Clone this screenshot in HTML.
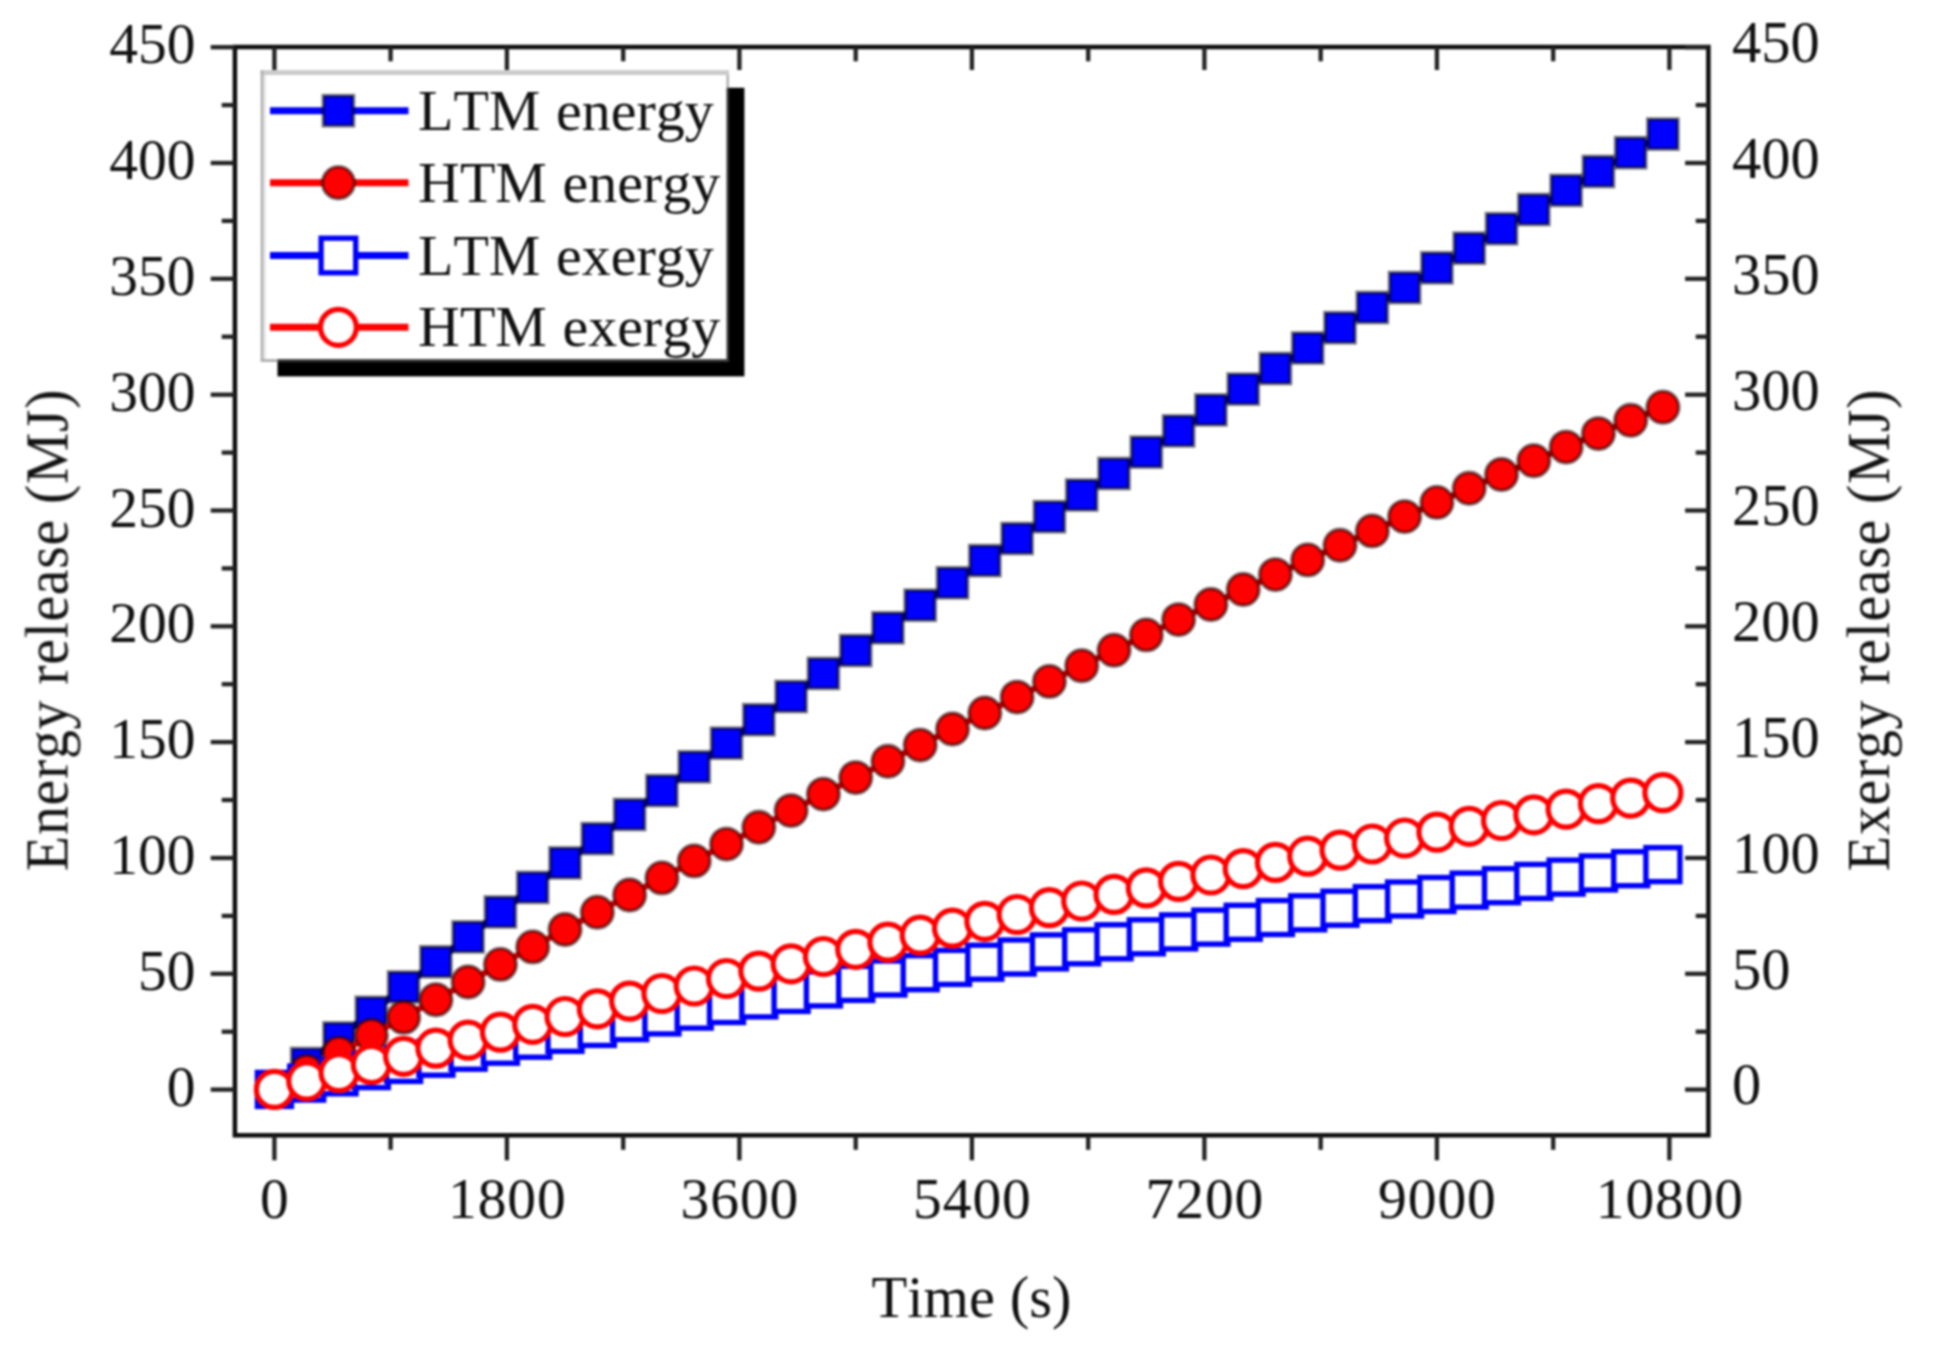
<!DOCTYPE html>
<html lang="en"><head><meta charset="utf-8"><title>Energy and exergy release</title>
<style>html,body{margin:0;padding:0;background:#fff}body{width:1933px;height:1347px;overflow:hidden}svg{display:block}text{font-family:"Liberation Serif","Times New Roman",serif;font-size:57.5px;fill:#111;font-kerning:none}</style></head><body>
<svg width="1933" height="1347" viewBox="0 0 1933 1347">
<defs><filter id="soft" x="-2%" y="-2%" width="104%" height="104%" color-interpolation-filters="sRGB"><feGaussianBlur stdDeviation="0.9"/></filter></defs>
<rect width="1933" height="1347" fill="#fff"/>
<g filter="url(#soft)">
<g id="ltm-energy">
<polyline points="274.4,1089.4 306.7,1063.5 339.0,1037.9 371.3,1012.3 403.6,987.0 435.9,961.8 468.1,936.9 500.4,912.0 532.7,887.4 565.0,862.9 597.3,838.6 629.6,814.5 661.9,790.6 694.2,766.8 726.5,743.2 758.8,719.7 791.1,696.5 823.4,673.4 855.7,650.5 887.9,627.8 920.2,605.2 952.5,582.8 984.8,560.6 1017.1,538.5 1049.4,516.7 1081.7,495.0 1114.0,473.5 1146.3,452.1 1178.6,430.9 1210.9,409.9 1243.2,389.1 1275.4,368.5 1307.7,348.0 1340.0,327.7 1372.3,307.5 1404.6,287.6 1436.9,267.8 1469.2,248.2 1501.5,228.7 1533.8,209.5 1566.1,190.4 1598.4,171.5 1630.7,152.7 1662.9,134.1" fill="none" stroke="#0000ff" stroke-width="6"/>
<rect x="259.4" y="1074.4" width="30" height="30" fill="#0000ff" stroke="#000" stroke-opacity="0.5" stroke-width="3.8"/>
<rect x="291.7" y="1048.5" width="30" height="30" fill="#0000ff" stroke="#000" stroke-opacity="0.5" stroke-width="3.8"/>
<rect x="324.0" y="1022.9" width="30" height="30" fill="#0000ff" stroke="#000" stroke-opacity="0.5" stroke-width="3.8"/>
<rect x="356.3" y="997.3" width="30" height="30" fill="#0000ff" stroke="#000" stroke-opacity="0.5" stroke-width="3.8"/>
<rect x="388.6" y="972.0" width="30" height="30" fill="#0000ff" stroke="#000" stroke-opacity="0.5" stroke-width="3.8"/>
<rect x="420.9" y="946.8" width="30" height="30" fill="#0000ff" stroke="#000" stroke-opacity="0.5" stroke-width="3.8"/>
<rect x="453.1" y="921.9" width="30" height="30" fill="#0000ff" stroke="#000" stroke-opacity="0.5" stroke-width="3.8"/>
<rect x="485.4" y="897.0" width="30" height="30" fill="#0000ff" stroke="#000" stroke-opacity="0.5" stroke-width="3.8"/>
<rect x="517.7" y="872.4" width="30" height="30" fill="#0000ff" stroke="#000" stroke-opacity="0.5" stroke-width="3.8"/>
<rect x="550.0" y="847.9" width="30" height="30" fill="#0000ff" stroke="#000" stroke-opacity="0.5" stroke-width="3.8"/>
<rect x="582.3" y="823.6" width="30" height="30" fill="#0000ff" stroke="#000" stroke-opacity="0.5" stroke-width="3.8"/>
<rect x="614.6" y="799.5" width="30" height="30" fill="#0000ff" stroke="#000" stroke-opacity="0.5" stroke-width="3.8"/>
<rect x="646.9" y="775.6" width="30" height="30" fill="#0000ff" stroke="#000" stroke-opacity="0.5" stroke-width="3.8"/>
<rect x="679.2" y="751.8" width="30" height="30" fill="#0000ff" stroke="#000" stroke-opacity="0.5" stroke-width="3.8"/>
<rect x="711.5" y="728.2" width="30" height="30" fill="#0000ff" stroke="#000" stroke-opacity="0.5" stroke-width="3.8"/>
<rect x="743.8" y="704.7" width="30" height="30" fill="#0000ff" stroke="#000" stroke-opacity="0.5" stroke-width="3.8"/>
<rect x="776.1" y="681.5" width="30" height="30" fill="#0000ff" stroke="#000" stroke-opacity="0.5" stroke-width="3.8"/>
<rect x="808.4" y="658.4" width="30" height="30" fill="#0000ff" stroke="#000" stroke-opacity="0.5" stroke-width="3.8"/>
<rect x="840.7" y="635.5" width="30" height="30" fill="#0000ff" stroke="#000" stroke-opacity="0.5" stroke-width="3.8"/>
<rect x="872.9" y="612.8" width="30" height="30" fill="#0000ff" stroke="#000" stroke-opacity="0.5" stroke-width="3.8"/>
<rect x="905.2" y="590.2" width="30" height="30" fill="#0000ff" stroke="#000" stroke-opacity="0.5" stroke-width="3.8"/>
<rect x="937.5" y="567.8" width="30" height="30" fill="#0000ff" stroke="#000" stroke-opacity="0.5" stroke-width="3.8"/>
<rect x="969.8" y="545.6" width="30" height="30" fill="#0000ff" stroke="#000" stroke-opacity="0.5" stroke-width="3.8"/>
<rect x="1002.1" y="523.5" width="30" height="30" fill="#0000ff" stroke="#000" stroke-opacity="0.5" stroke-width="3.8"/>
<rect x="1034.4" y="501.7" width="30" height="30" fill="#0000ff" stroke="#000" stroke-opacity="0.5" stroke-width="3.8"/>
<rect x="1066.7" y="480.0" width="30" height="30" fill="#0000ff" stroke="#000" stroke-opacity="0.5" stroke-width="3.8"/>
<rect x="1099.0" y="458.5" width="30" height="30" fill="#0000ff" stroke="#000" stroke-opacity="0.5" stroke-width="3.8"/>
<rect x="1131.3" y="437.1" width="30" height="30" fill="#0000ff" stroke="#000" stroke-opacity="0.5" stroke-width="3.8"/>
<rect x="1163.6" y="415.9" width="30" height="30" fill="#0000ff" stroke="#000" stroke-opacity="0.5" stroke-width="3.8"/>
<rect x="1195.9" y="394.9" width="30" height="30" fill="#0000ff" stroke="#000" stroke-opacity="0.5" stroke-width="3.8"/>
<rect x="1228.2" y="374.1" width="30" height="30" fill="#0000ff" stroke="#000" stroke-opacity="0.5" stroke-width="3.8"/>
<rect x="1260.4" y="353.5" width="30" height="30" fill="#0000ff" stroke="#000" stroke-opacity="0.5" stroke-width="3.8"/>
<rect x="1292.7" y="333.0" width="30" height="30" fill="#0000ff" stroke="#000" stroke-opacity="0.5" stroke-width="3.8"/>
<rect x="1325.0" y="312.7" width="30" height="30" fill="#0000ff" stroke="#000" stroke-opacity="0.5" stroke-width="3.8"/>
<rect x="1357.3" y="292.5" width="30" height="30" fill="#0000ff" stroke="#000" stroke-opacity="0.5" stroke-width="3.8"/>
<rect x="1389.6" y="272.6" width="30" height="30" fill="#0000ff" stroke="#000" stroke-opacity="0.5" stroke-width="3.8"/>
<rect x="1421.9" y="252.8" width="30" height="30" fill="#0000ff" stroke="#000" stroke-opacity="0.5" stroke-width="3.8"/>
<rect x="1454.2" y="233.2" width="30" height="30" fill="#0000ff" stroke="#000" stroke-opacity="0.5" stroke-width="3.8"/>
<rect x="1486.5" y="213.7" width="30" height="30" fill="#0000ff" stroke="#000" stroke-opacity="0.5" stroke-width="3.8"/>
<rect x="1518.8" y="194.5" width="30" height="30" fill="#0000ff" stroke="#000" stroke-opacity="0.5" stroke-width="3.8"/>
<rect x="1551.1" y="175.4" width="30" height="30" fill="#0000ff" stroke="#000" stroke-opacity="0.5" stroke-width="3.8"/>
<rect x="1583.4" y="156.5" width="30" height="30" fill="#0000ff" stroke="#000" stroke-opacity="0.5" stroke-width="3.8"/>
<rect x="1615.7" y="137.7" width="30" height="30" fill="#0000ff" stroke="#000" stroke-opacity="0.5" stroke-width="3.8"/>
<rect x="1647.9" y="119.1" width="30" height="30" fill="#0000ff" stroke="#000" stroke-opacity="0.5" stroke-width="3.8"/>
</g>
<g id="htm-energy">
<polyline points="274.4,1089.4 306.7,1071.3 339.0,1053.2 371.3,1035.3 403.6,1017.4 435.9,999.7 468.1,982.0 500.4,964.4 532.7,946.9 565.0,929.5 597.3,912.2 629.6,895.0 661.9,877.9 694.2,860.9 726.5,844.1 758.8,827.3 791.1,810.6 823.4,794.1 855.7,777.6 887.9,761.3 920.2,745.1 952.5,729.0 984.8,713.0 1017.1,697.1 1049.4,681.4 1081.7,665.7 1114.0,650.2 1146.3,634.9 1178.6,619.6 1210.9,604.5 1243.2,589.5 1275.4,574.6 1307.7,559.9 1340.0,545.3 1372.3,530.9 1404.6,516.6 1436.9,502.4 1469.2,488.3 1501.5,474.5 1533.8,460.7 1566.1,447.1 1598.4,433.6 1630.7,420.3 1662.9,407.2" fill="none" stroke="#ff0000" stroke-width="6"/>
<circle cx="274.4" cy="1089.4" r="15.9" fill="#ff0000" stroke="#200000" stroke-opacity="0.55" stroke-width="3.6"/>
<circle cx="306.7" cy="1071.3" r="15.9" fill="#ff0000" stroke="#200000" stroke-opacity="0.55" stroke-width="3.6"/>
<circle cx="339.0" cy="1053.2" r="15.9" fill="#ff0000" stroke="#200000" stroke-opacity="0.55" stroke-width="3.6"/>
<circle cx="371.3" cy="1035.3" r="15.9" fill="#ff0000" stroke="#200000" stroke-opacity="0.55" stroke-width="3.6"/>
<circle cx="403.6" cy="1017.4" r="15.9" fill="#ff0000" stroke="#200000" stroke-opacity="0.55" stroke-width="3.6"/>
<circle cx="435.9" cy="999.7" r="15.9" fill="#ff0000" stroke="#200000" stroke-opacity="0.55" stroke-width="3.6"/>
<circle cx="468.1" cy="982.0" r="15.9" fill="#ff0000" stroke="#200000" stroke-opacity="0.55" stroke-width="3.6"/>
<circle cx="500.4" cy="964.4" r="15.9" fill="#ff0000" stroke="#200000" stroke-opacity="0.55" stroke-width="3.6"/>
<circle cx="532.7" cy="946.9" r="15.9" fill="#ff0000" stroke="#200000" stroke-opacity="0.55" stroke-width="3.6"/>
<circle cx="565.0" cy="929.5" r="15.9" fill="#ff0000" stroke="#200000" stroke-opacity="0.55" stroke-width="3.6"/>
<circle cx="597.3" cy="912.2" r="15.9" fill="#ff0000" stroke="#200000" stroke-opacity="0.55" stroke-width="3.6"/>
<circle cx="629.6" cy="895.0" r="15.9" fill="#ff0000" stroke="#200000" stroke-opacity="0.55" stroke-width="3.6"/>
<circle cx="661.9" cy="877.9" r="15.9" fill="#ff0000" stroke="#200000" stroke-opacity="0.55" stroke-width="3.6"/>
<circle cx="694.2" cy="860.9" r="15.9" fill="#ff0000" stroke="#200000" stroke-opacity="0.55" stroke-width="3.6"/>
<circle cx="726.5" cy="844.1" r="15.9" fill="#ff0000" stroke="#200000" stroke-opacity="0.55" stroke-width="3.6"/>
<circle cx="758.8" cy="827.3" r="15.9" fill="#ff0000" stroke="#200000" stroke-opacity="0.55" stroke-width="3.6"/>
<circle cx="791.1" cy="810.6" r="15.9" fill="#ff0000" stroke="#200000" stroke-opacity="0.55" stroke-width="3.6"/>
<circle cx="823.4" cy="794.1" r="15.9" fill="#ff0000" stroke="#200000" stroke-opacity="0.55" stroke-width="3.6"/>
<circle cx="855.7" cy="777.6" r="15.9" fill="#ff0000" stroke="#200000" stroke-opacity="0.55" stroke-width="3.6"/>
<circle cx="887.9" cy="761.3" r="15.9" fill="#ff0000" stroke="#200000" stroke-opacity="0.55" stroke-width="3.6"/>
<circle cx="920.2" cy="745.1" r="15.9" fill="#ff0000" stroke="#200000" stroke-opacity="0.55" stroke-width="3.6"/>
<circle cx="952.5" cy="729.0" r="15.9" fill="#ff0000" stroke="#200000" stroke-opacity="0.55" stroke-width="3.6"/>
<circle cx="984.8" cy="713.0" r="15.9" fill="#ff0000" stroke="#200000" stroke-opacity="0.55" stroke-width="3.6"/>
<circle cx="1017.1" cy="697.1" r="15.9" fill="#ff0000" stroke="#200000" stroke-opacity="0.55" stroke-width="3.6"/>
<circle cx="1049.4" cy="681.4" r="15.9" fill="#ff0000" stroke="#200000" stroke-opacity="0.55" stroke-width="3.6"/>
<circle cx="1081.7" cy="665.7" r="15.9" fill="#ff0000" stroke="#200000" stroke-opacity="0.55" stroke-width="3.6"/>
<circle cx="1114.0" cy="650.2" r="15.9" fill="#ff0000" stroke="#200000" stroke-opacity="0.55" stroke-width="3.6"/>
<circle cx="1146.3" cy="634.9" r="15.9" fill="#ff0000" stroke="#200000" stroke-opacity="0.55" stroke-width="3.6"/>
<circle cx="1178.6" cy="619.6" r="15.9" fill="#ff0000" stroke="#200000" stroke-opacity="0.55" stroke-width="3.6"/>
<circle cx="1210.9" cy="604.5" r="15.9" fill="#ff0000" stroke="#200000" stroke-opacity="0.55" stroke-width="3.6"/>
<circle cx="1243.2" cy="589.5" r="15.9" fill="#ff0000" stroke="#200000" stroke-opacity="0.55" stroke-width="3.6"/>
<circle cx="1275.4" cy="574.6" r="15.9" fill="#ff0000" stroke="#200000" stroke-opacity="0.55" stroke-width="3.6"/>
<circle cx="1307.7" cy="559.9" r="15.9" fill="#ff0000" stroke="#200000" stroke-opacity="0.55" stroke-width="3.6"/>
<circle cx="1340.0" cy="545.3" r="15.9" fill="#ff0000" stroke="#200000" stroke-opacity="0.55" stroke-width="3.6"/>
<circle cx="1372.3" cy="530.9" r="15.9" fill="#ff0000" stroke="#200000" stroke-opacity="0.55" stroke-width="3.6"/>
<circle cx="1404.6" cy="516.6" r="15.9" fill="#ff0000" stroke="#200000" stroke-opacity="0.55" stroke-width="3.6"/>
<circle cx="1436.9" cy="502.4" r="15.9" fill="#ff0000" stroke="#200000" stroke-opacity="0.55" stroke-width="3.6"/>
<circle cx="1469.2" cy="488.3" r="15.9" fill="#ff0000" stroke="#200000" stroke-opacity="0.55" stroke-width="3.6"/>
<circle cx="1501.5" cy="474.5" r="15.9" fill="#ff0000" stroke="#200000" stroke-opacity="0.55" stroke-width="3.6"/>
<circle cx="1533.8" cy="460.7" r="15.9" fill="#ff0000" stroke="#200000" stroke-opacity="0.55" stroke-width="3.6"/>
<circle cx="1566.1" cy="447.1" r="15.9" fill="#ff0000" stroke="#200000" stroke-opacity="0.55" stroke-width="3.6"/>
<circle cx="1598.4" cy="433.6" r="15.9" fill="#ff0000" stroke="#200000" stroke-opacity="0.55" stroke-width="3.6"/>
<circle cx="1630.7" cy="420.3" r="15.9" fill="#ff0000" stroke="#200000" stroke-opacity="0.55" stroke-width="3.6"/>
<circle cx="1662.9" cy="407.2" r="15.9" fill="#ff0000" stroke="#200000" stroke-opacity="0.55" stroke-width="3.6"/>
</g>
<g id="ltm-exergy">
<polyline points="274.4,1089.4 306.7,1083.1 339.0,1076.8 371.3,1070.6 403.6,1064.4 435.9,1058.2 468.1,1052.2 500.4,1046.2 532.7,1040.2 565.0,1034.3 597.3,1028.4 629.6,1022.6 661.9,1016.9 694.2,1011.1 726.5,1005.5 758.8,999.9 791.1,994.4 823.4,988.9 855.7,983.4 887.9,978.0 920.2,972.7 952.5,967.4 984.8,962.2 1017.1,957.0 1049.4,951.9 1081.7,946.8 1114.0,941.8 1146.3,936.8 1178.6,931.9 1210.9,927.1 1243.2,922.3 1275.4,917.5 1307.7,912.8 1340.0,908.2 1372.3,903.6 1404.6,899.0 1436.9,894.5 1469.2,890.1 1501.5,885.7 1533.8,881.4 1566.1,877.1 1598.4,872.9 1630.7,868.7 1662.9,864.6" fill="none" stroke="#0000ff" stroke-width="6"/>
<rect x="257.4" y="1072.4" width="34" height="34" fill="#fff" stroke="#0000ff" stroke-width="5.4"/>
<rect x="289.7" y="1066.1" width="34" height="34" fill="#fff" stroke="#0000ff" stroke-width="5.4"/>
<rect x="322.0" y="1059.8" width="34" height="34" fill="#fff" stroke="#0000ff" stroke-width="5.4"/>
<rect x="354.3" y="1053.6" width="34" height="34" fill="#fff" stroke="#0000ff" stroke-width="5.4"/>
<rect x="386.6" y="1047.4" width="34" height="34" fill="#fff" stroke="#0000ff" stroke-width="5.4"/>
<rect x="418.9" y="1041.2" width="34" height="34" fill="#fff" stroke="#0000ff" stroke-width="5.4"/>
<rect x="451.1" y="1035.2" width="34" height="34" fill="#fff" stroke="#0000ff" stroke-width="5.4"/>
<rect x="483.4" y="1029.2" width="34" height="34" fill="#fff" stroke="#0000ff" stroke-width="5.4"/>
<rect x="515.7" y="1023.2" width="34" height="34" fill="#fff" stroke="#0000ff" stroke-width="5.4"/>
<rect x="548.0" y="1017.3" width="34" height="34" fill="#fff" stroke="#0000ff" stroke-width="5.4"/>
<rect x="580.3" y="1011.4" width="34" height="34" fill="#fff" stroke="#0000ff" stroke-width="5.4"/>
<rect x="612.6" y="1005.6" width="34" height="34" fill="#fff" stroke="#0000ff" stroke-width="5.4"/>
<rect x="644.9" y="999.9" width="34" height="34" fill="#fff" stroke="#0000ff" stroke-width="5.4"/>
<rect x="677.2" y="994.1" width="34" height="34" fill="#fff" stroke="#0000ff" stroke-width="5.4"/>
<rect x="709.5" y="988.5" width="34" height="34" fill="#fff" stroke="#0000ff" stroke-width="5.4"/>
<rect x="741.8" y="982.9" width="34" height="34" fill="#fff" stroke="#0000ff" stroke-width="5.4"/>
<rect x="774.1" y="977.4" width="34" height="34" fill="#fff" stroke="#0000ff" stroke-width="5.4"/>
<rect x="806.4" y="971.9" width="34" height="34" fill="#fff" stroke="#0000ff" stroke-width="5.4"/>
<rect x="838.7" y="966.4" width="34" height="34" fill="#fff" stroke="#0000ff" stroke-width="5.4"/>
<rect x="870.9" y="961.0" width="34" height="34" fill="#fff" stroke="#0000ff" stroke-width="5.4"/>
<rect x="903.2" y="955.7" width="34" height="34" fill="#fff" stroke="#0000ff" stroke-width="5.4"/>
<rect x="935.5" y="950.4" width="34" height="34" fill="#fff" stroke="#0000ff" stroke-width="5.4"/>
<rect x="967.8" y="945.2" width="34" height="34" fill="#fff" stroke="#0000ff" stroke-width="5.4"/>
<rect x="1000.1" y="940.0" width="34" height="34" fill="#fff" stroke="#0000ff" stroke-width="5.4"/>
<rect x="1032.4" y="934.9" width="34" height="34" fill="#fff" stroke="#0000ff" stroke-width="5.4"/>
<rect x="1064.7" y="929.8" width="34" height="34" fill="#fff" stroke="#0000ff" stroke-width="5.4"/>
<rect x="1097.0" y="924.8" width="34" height="34" fill="#fff" stroke="#0000ff" stroke-width="5.4"/>
<rect x="1129.3" y="919.8" width="34" height="34" fill="#fff" stroke="#0000ff" stroke-width="5.4"/>
<rect x="1161.6" y="914.9" width="34" height="34" fill="#fff" stroke="#0000ff" stroke-width="5.4"/>
<rect x="1193.9" y="910.1" width="34" height="34" fill="#fff" stroke="#0000ff" stroke-width="5.4"/>
<rect x="1226.2" y="905.3" width="34" height="34" fill="#fff" stroke="#0000ff" stroke-width="5.4"/>
<rect x="1258.4" y="900.5" width="34" height="34" fill="#fff" stroke="#0000ff" stroke-width="5.4"/>
<rect x="1290.7" y="895.8" width="34" height="34" fill="#fff" stroke="#0000ff" stroke-width="5.4"/>
<rect x="1323.0" y="891.2" width="34" height="34" fill="#fff" stroke="#0000ff" stroke-width="5.4"/>
<rect x="1355.3" y="886.6" width="34" height="34" fill="#fff" stroke="#0000ff" stroke-width="5.4"/>
<rect x="1387.6" y="882.0" width="34" height="34" fill="#fff" stroke="#0000ff" stroke-width="5.4"/>
<rect x="1419.9" y="877.5" width="34" height="34" fill="#fff" stroke="#0000ff" stroke-width="5.4"/>
<rect x="1452.2" y="873.1" width="34" height="34" fill="#fff" stroke="#0000ff" stroke-width="5.4"/>
<rect x="1484.5" y="868.7" width="34" height="34" fill="#fff" stroke="#0000ff" stroke-width="5.4"/>
<rect x="1516.8" y="864.4" width="34" height="34" fill="#fff" stroke="#0000ff" stroke-width="5.4"/>
<rect x="1549.1" y="860.1" width="34" height="34" fill="#fff" stroke="#0000ff" stroke-width="5.4"/>
<rect x="1581.4" y="855.9" width="34" height="34" fill="#fff" stroke="#0000ff" stroke-width="5.4"/>
<rect x="1613.7" y="851.7" width="34" height="34" fill="#fff" stroke="#0000ff" stroke-width="5.4"/>
<rect x="1645.9" y="847.6" width="34" height="34" fill="#fff" stroke="#0000ff" stroke-width="5.4"/>
</g>
<g id="htm-exergy">
<polyline points="274.4,1089.4 306.7,1081.0 339.0,1072.7 371.3,1064.5 403.6,1056.3 435.9,1048.2 468.1,1040.2 500.4,1032.2 532.7,1024.3 565.0,1016.5 597.3,1008.8 629.6,1001.1 661.9,993.5 694.2,986.0 726.5,978.5 758.8,971.1 791.1,963.8 823.4,956.5 855.7,949.3 887.9,942.2 920.2,935.2 952.5,928.2 984.8,921.3 1017.1,914.5 1049.4,907.7 1081.7,901.0 1114.0,894.4 1146.3,887.9 1178.6,881.4 1210.9,875.0 1243.2,868.6 1275.4,862.4 1307.7,856.2 1340.0,850.1 1372.3,844.0 1404.6,838.0 1436.9,832.1 1469.2,826.3 1501.5,820.5 1533.8,814.8 1566.1,809.1 1598.4,803.6 1630.7,798.1 1662.9,792.7" fill="none" stroke="#ff0000" stroke-width="6"/>
<circle cx="274.4" cy="1089.4" r="18" fill="#fff" stroke="#ff0000" stroke-width="5.2"/>
<circle cx="306.7" cy="1081.0" r="18" fill="#fff" stroke="#ff0000" stroke-width="5.2"/>
<circle cx="339.0" cy="1072.7" r="18" fill="#fff" stroke="#ff0000" stroke-width="5.2"/>
<circle cx="371.3" cy="1064.5" r="18" fill="#fff" stroke="#ff0000" stroke-width="5.2"/>
<circle cx="403.6" cy="1056.3" r="18" fill="#fff" stroke="#ff0000" stroke-width="5.2"/>
<circle cx="435.9" cy="1048.2" r="18" fill="#fff" stroke="#ff0000" stroke-width="5.2"/>
<circle cx="468.1" cy="1040.2" r="18" fill="#fff" stroke="#ff0000" stroke-width="5.2"/>
<circle cx="500.4" cy="1032.2" r="18" fill="#fff" stroke="#ff0000" stroke-width="5.2"/>
<circle cx="532.7" cy="1024.3" r="18" fill="#fff" stroke="#ff0000" stroke-width="5.2"/>
<circle cx="565.0" cy="1016.5" r="18" fill="#fff" stroke="#ff0000" stroke-width="5.2"/>
<circle cx="597.3" cy="1008.8" r="18" fill="#fff" stroke="#ff0000" stroke-width="5.2"/>
<circle cx="629.6" cy="1001.1" r="18" fill="#fff" stroke="#ff0000" stroke-width="5.2"/>
<circle cx="661.9" cy="993.5" r="18" fill="#fff" stroke="#ff0000" stroke-width="5.2"/>
<circle cx="694.2" cy="986.0" r="18" fill="#fff" stroke="#ff0000" stroke-width="5.2"/>
<circle cx="726.5" cy="978.5" r="18" fill="#fff" stroke="#ff0000" stroke-width="5.2"/>
<circle cx="758.8" cy="971.1" r="18" fill="#fff" stroke="#ff0000" stroke-width="5.2"/>
<circle cx="791.1" cy="963.8" r="18" fill="#fff" stroke="#ff0000" stroke-width="5.2"/>
<circle cx="823.4" cy="956.5" r="18" fill="#fff" stroke="#ff0000" stroke-width="5.2"/>
<circle cx="855.7" cy="949.3" r="18" fill="#fff" stroke="#ff0000" stroke-width="5.2"/>
<circle cx="887.9" cy="942.2" r="18" fill="#fff" stroke="#ff0000" stroke-width="5.2"/>
<circle cx="920.2" cy="935.2" r="18" fill="#fff" stroke="#ff0000" stroke-width="5.2"/>
<circle cx="952.5" cy="928.2" r="18" fill="#fff" stroke="#ff0000" stroke-width="5.2"/>
<circle cx="984.8" cy="921.3" r="18" fill="#fff" stroke="#ff0000" stroke-width="5.2"/>
<circle cx="1017.1" cy="914.5" r="18" fill="#fff" stroke="#ff0000" stroke-width="5.2"/>
<circle cx="1049.4" cy="907.7" r="18" fill="#fff" stroke="#ff0000" stroke-width="5.2"/>
<circle cx="1081.7" cy="901.0" r="18" fill="#fff" stroke="#ff0000" stroke-width="5.2"/>
<circle cx="1114.0" cy="894.4" r="18" fill="#fff" stroke="#ff0000" stroke-width="5.2"/>
<circle cx="1146.3" cy="887.9" r="18" fill="#fff" stroke="#ff0000" stroke-width="5.2"/>
<circle cx="1178.6" cy="881.4" r="18" fill="#fff" stroke="#ff0000" stroke-width="5.2"/>
<circle cx="1210.9" cy="875.0" r="18" fill="#fff" stroke="#ff0000" stroke-width="5.2"/>
<circle cx="1243.2" cy="868.6" r="18" fill="#fff" stroke="#ff0000" stroke-width="5.2"/>
<circle cx="1275.4" cy="862.4" r="18" fill="#fff" stroke="#ff0000" stroke-width="5.2"/>
<circle cx="1307.7" cy="856.2" r="18" fill="#fff" stroke="#ff0000" stroke-width="5.2"/>
<circle cx="1340.0" cy="850.1" r="18" fill="#fff" stroke="#ff0000" stroke-width="5.2"/>
<circle cx="1372.3" cy="844.0" r="18" fill="#fff" stroke="#ff0000" stroke-width="5.2"/>
<circle cx="1404.6" cy="838.0" r="18" fill="#fff" stroke="#ff0000" stroke-width="5.2"/>
<circle cx="1436.9" cy="832.1" r="18" fill="#fff" stroke="#ff0000" stroke-width="5.2"/>
<circle cx="1469.2" cy="826.3" r="18" fill="#fff" stroke="#ff0000" stroke-width="5.2"/>
<circle cx="1501.5" cy="820.5" r="18" fill="#fff" stroke="#ff0000" stroke-width="5.2"/>
<circle cx="1533.8" cy="814.8" r="18" fill="#fff" stroke="#ff0000" stroke-width="5.2"/>
<circle cx="1566.1" cy="809.1" r="18" fill="#fff" stroke="#ff0000" stroke-width="5.2"/>
<circle cx="1598.4" cy="803.6" r="18" fill="#fff" stroke="#ff0000" stroke-width="5.2"/>
<circle cx="1630.7" cy="798.1" r="18" fill="#fff" stroke="#ff0000" stroke-width="5.2"/>
<circle cx="1662.9" cy="792.7" r="18" fill="#fff" stroke="#ff0000" stroke-width="5.2"/>
</g>
<g stroke="#0c0c0c" stroke-width="4.5" fill="none">
<rect x="234.9" y="47.0" width="1473.5" height="1088.3"/>
</g>
<g stroke="#222" stroke-width="4.3" fill="none">
<line x1="274.4" y1="47.0" x2="274.4" y2="70.0"/>
<line x1="274.4" y1="1135.3" x2="274.4" y2="1160.3"/>
<line x1="390.6" y1="47.0" x2="390.6" y2="61.3"/>
<line x1="390.6" y1="1135.3" x2="390.6" y2="1149.8"/>
<line x1="506.9" y1="47.0" x2="506.9" y2="70.0"/>
<line x1="506.9" y1="1135.3" x2="506.9" y2="1160.3"/>
<line x1="623.2" y1="47.0" x2="623.2" y2="61.3"/>
<line x1="623.2" y1="1135.3" x2="623.2" y2="1149.8"/>
<line x1="739.4" y1="47.0" x2="739.4" y2="70.0"/>
<line x1="739.4" y1="1135.3" x2="739.4" y2="1160.3"/>
<line x1="855.7" y1="47.0" x2="855.7" y2="61.3"/>
<line x1="855.7" y1="1135.3" x2="855.7" y2="1149.8"/>
<line x1="971.9" y1="47.0" x2="971.9" y2="70.0"/>
<line x1="971.9" y1="1135.3" x2="971.9" y2="1160.3"/>
<line x1="1088.2" y1="47.0" x2="1088.2" y2="61.3"/>
<line x1="1088.2" y1="1135.3" x2="1088.2" y2="1149.8"/>
<line x1="1204.4" y1="47.0" x2="1204.4" y2="70.0"/>
<line x1="1204.4" y1="1135.3" x2="1204.4" y2="1160.3"/>
<line x1="1320.7" y1="47.0" x2="1320.7" y2="61.3"/>
<line x1="1320.7" y1="1135.3" x2="1320.7" y2="1149.8"/>
<line x1="1436.9" y1="47.0" x2="1436.9" y2="70.0"/>
<line x1="1436.9" y1="1135.3" x2="1436.9" y2="1160.3"/>
<line x1="1553.2" y1="47.0" x2="1553.2" y2="61.3"/>
<line x1="1553.2" y1="1135.3" x2="1553.2" y2="1149.8"/>
<line x1="1669.4" y1="47.0" x2="1669.4" y2="70.0"/>
<line x1="1669.4" y1="1135.3" x2="1669.4" y2="1160.3"/>
<line x1="210.7" y1="1089.6" x2="234.9" y2="1089.6"/>
<line x1="1685.1" y1="1089.6" x2="1708.4" y2="1089.6"/>
<line x1="221.7" y1="1031.7" x2="234.9" y2="1031.7"/>
<line x1="1695.7" y1="1031.7" x2="1708.4" y2="1031.7"/>
<line x1="210.7" y1="973.8" x2="234.9" y2="973.8"/>
<line x1="1685.1" y1="973.8" x2="1708.4" y2="973.8"/>
<line x1="221.7" y1="915.9" x2="234.9" y2="915.9"/>
<line x1="1695.7" y1="915.9" x2="1708.4" y2="915.9"/>
<line x1="210.7" y1="858.0" x2="234.9" y2="858.0"/>
<line x1="1685.1" y1="858.0" x2="1708.4" y2="858.0"/>
<line x1="221.7" y1="800.0" x2="234.9" y2="800.0"/>
<line x1="1695.7" y1="800.0" x2="1708.4" y2="800.0"/>
<line x1="210.7" y1="742.1" x2="234.9" y2="742.1"/>
<line x1="1685.1" y1="742.1" x2="1708.4" y2="742.1"/>
<line x1="221.7" y1="684.2" x2="234.9" y2="684.2"/>
<line x1="1695.7" y1="684.2" x2="1708.4" y2="684.2"/>
<line x1="210.7" y1="626.3" x2="234.9" y2="626.3"/>
<line x1="1685.1" y1="626.3" x2="1708.4" y2="626.3"/>
<line x1="221.7" y1="568.4" x2="234.9" y2="568.4"/>
<line x1="1695.7" y1="568.4" x2="1708.4" y2="568.4"/>
<line x1="210.7" y1="510.5" x2="234.9" y2="510.5"/>
<line x1="1685.1" y1="510.5" x2="1708.4" y2="510.5"/>
<line x1="221.7" y1="452.6" x2="234.9" y2="452.6"/>
<line x1="1695.7" y1="452.6" x2="1708.4" y2="452.6"/>
<line x1="210.7" y1="394.7" x2="234.9" y2="394.7"/>
<line x1="1685.1" y1="394.7" x2="1708.4" y2="394.7"/>
<line x1="221.7" y1="336.7" x2="234.9" y2="336.7"/>
<line x1="1695.7" y1="336.7" x2="1708.4" y2="336.7"/>
<line x1="210.7" y1="278.8" x2="234.9" y2="278.8"/>
<line x1="1685.1" y1="278.8" x2="1708.4" y2="278.8"/>
<line x1="221.7" y1="220.9" x2="234.9" y2="220.9"/>
<line x1="1695.7" y1="220.9" x2="1708.4" y2="220.9"/>
<line x1="210.7" y1="163.0" x2="234.9" y2="163.0"/>
<line x1="1685.1" y1="163.0" x2="1708.4" y2="163.0"/>
<line x1="221.7" y1="105.1" x2="234.9" y2="105.1"/>
<line x1="1695.7" y1="105.1" x2="1708.4" y2="105.1"/>
<line x1="210.7" y1="47.2" x2="234.9" y2="47.2"/>
<line x1="1685.1" y1="47.2" x2="1708.4" y2="47.2"/>
</g>
<g>
<text x="274.8" y="1218" text-anchor="middle" style="letter-spacing:0.9px">0</text>
<text x="507.3" y="1218" text-anchor="middle" style="letter-spacing:0.9px">1800</text>
<text x="739.9" y="1218" text-anchor="middle" style="letter-spacing:0.9px">3600</text>
<text x="972.4" y="1218" text-anchor="middle" style="letter-spacing:0.9px">5400</text>
<text x="1204.9" y="1218" text-anchor="middle" style="letter-spacing:0.9px">7200</text>
<text x="1437.4" y="1218" text-anchor="middle" style="letter-spacing:0.9px">9000</text>
<text x="1669.9" y="1218" text-anchor="middle" style="letter-spacing:0.9px">10800</text>
<text x="195.5" y="1105.7" text-anchor="end">0</text>
<text x="1732" y="1104.4" style="font-size:58.5px">0</text>
<text x="195.5" y="989.9" text-anchor="end">50</text>
<text x="1732" y="988.6" style="font-size:58.5px">50</text>
<text x="195.5" y="874.1" text-anchor="end">100</text>
<text x="1732" y="872.8" style="font-size:58.5px">100</text>
<text x="195.5" y="758.2" text-anchor="end">150</text>
<text x="1732" y="756.9" style="font-size:58.5px">150</text>
<text x="195.5" y="642.4" text-anchor="end">200</text>
<text x="1732" y="641.1" style="font-size:58.5px">200</text>
<text x="195.5" y="526.6" text-anchor="end">250</text>
<text x="1732" y="525.3" style="font-size:58.5px">250</text>
<text x="195.5" y="410.8" text-anchor="end">300</text>
<text x="1732" y="409.5" style="font-size:58.5px">300</text>
<text x="195.5" y="294.9" text-anchor="end">350</text>
<text x="1732" y="293.6" style="font-size:58.5px">350</text>
<text x="195.5" y="179.1" text-anchor="end">400</text>
<text x="1732" y="177.8" style="font-size:58.5px">400</text>
<text x="195.5" y="63.3" text-anchor="end">450</text>
<text x="1732" y="62.0" style="font-size:58.5px">450</text>
</g>
<text x="971.5" y="1316.5" text-anchor="middle" style="font-size:58.5px">Time (s)</text>
<text transform="translate(67.5,630) rotate(-90) scale(0.95,1)" text-anchor="middle" style="font-size:61px;letter-spacing:0.7px">Energy release (MJ)</text>
<text transform="translate(1889,630) rotate(-90) scale(0.95,1)" text-anchor="middle" style="font-size:61px;letter-spacing:0.7px">Exergy release (MJ)</text>
<g id="legend">
<rect x="277.5" y="87.8" width="466.9" height="288.6" fill="#000"/>
<rect x="260.7" y="70.2" width="468.3" height="291.8" fill="#fff"/>
<rect x="260.7" y="70.2" width="468.3" height="4.8" fill="#cacaca"/>
<rect x="260.7" y="70.2" width="2.6" height="291.8" fill="#adadad"/>
<rect x="263.3" y="75" width="2.4" height="284.1" fill="#e2e2e2"/>
<rect x="726.5" y="75" width="2.5" height="12.8" fill="#b0b0b0"/>
<rect x="726.5" y="87.8" width="2.5" height="274.2" fill="#383838"/>
<rect x="260.7" y="359.1" width="16.8" height="2.9" fill="#b0b0b0"/>
<rect x="277.5" y="359.1" width="451.5" height="2.9" fill="#383838"/>
<line x1="270" y1="110.7" x2="408.5" y2="110.7" stroke="#0000ff" stroke-width="7"/>
<rect x="323.4" y="95.7" width="30" height="30" fill="#0000ff" stroke="#000" stroke-opacity="0.5" stroke-width="3.8"/>
<text x="418" y="129.8" style="font-size:58px;word-spacing:1px">LTM energy</text>
<line x1="270" y1="182.7" x2="408.5" y2="182.7" stroke="#ff0000" stroke-width="7"/>
<circle cx="338.4" cy="182.7" r="15.9" fill="#ff0000" stroke="#200000" stroke-opacity="0.55" stroke-width="3.6"/>
<text x="418" y="202.1" style="font-size:58px;word-spacing:1px">HTM energy</text>
<line x1="270" y1="255.5" x2="408.5" y2="255.5" stroke="#0000ff" stroke-width="7"/>
<rect x="321.1" y="238.2" width="34.6" height="34.6" fill="#fff" stroke="#0000ff" stroke-width="5.3"/>
<text x="418" y="274.8" style="font-size:58px;word-spacing:1px">LTM exergy</text>
<line x1="270" y1="327.3" x2="408.5" y2="327.3" stroke="#ff0000" stroke-width="7"/>
<circle cx="338.4" cy="327.3" r="18" fill="#fff" stroke="#ff0000" stroke-width="5.2"/>
<text x="418" y="345.5" style="font-size:58px;word-spacing:1px">HTM exergy</text>
</g>
</g>
</svg></body></html>
